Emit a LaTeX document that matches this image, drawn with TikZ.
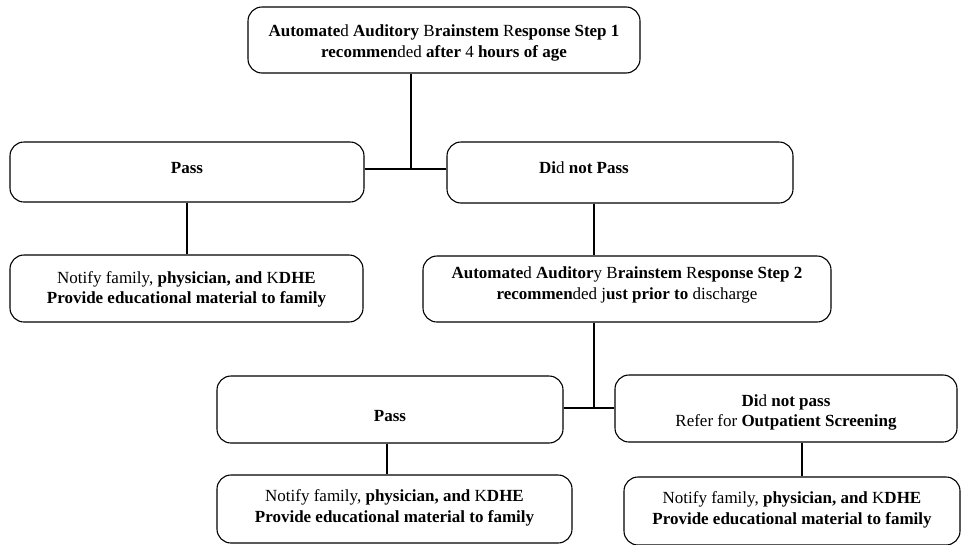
\documentclass[tikz,border=0pt]{standalone}
\usepackage{fontspec}
\setmainfont{Liberation Serif}
% shift a label without changing the size TikZ centres on
\newcommand{\nudge}[2]{\raisebox{#1}[\height][\depth]{#2}}
\newcommand{\twolines}[3]{\nudge{#1}{\begin{tabular}{@{}c@{}}#2\\#3\end{tabular}}}
\begin{document}
\begin{tikzpicture}[x=1pt,y=-1pt,
  stepbox/.style={draw, line width=1.1pt, rounded corners=14pt, inner sep=0pt,
    align=center, font=\fontsize{17}{20.5}\selectfont},
  link/.style={line width=2pt}]
\useasboundingbox (0,0) rectangle (961,544);

% first screening
\node[stepbox, minimum width=392pt, minimum height=66pt] (abr1) at (444,40)
  {\twolines{-3pt}
    {\textbf{Automate}d \textbf{Auditory} B\textbf{rainstem} R\textbf{esponse Step 1}}
    {\textbf{recommen}ded \textbf{after} 4 \textbf{hours of age}}};

\node[stepbox, minimum width=354pt, minimum height=60pt] (pass1) at (187,172)
  {\nudge{4pt}{\textbf{Pass}}};
\node[stepbox, minimum width=346pt, minimum height=61pt] (fail1) at (620,172.5)
  {\nudge{5pt}{\textbf{Di}d \textbf{not Pass}}\hspace*{72pt}};

\node[stepbox, minimum width=353pt, minimum height=67pt] (notify1) at (186.5,288.5)
  {\twolines{-1pt}
    {Notify family, \textbf{physician, and} K\textbf{DHE}}
    {\textbf{Provide educational material to family}}};

% second screening
\node[stepbox, minimum width=408pt, minimum height=66pt] (abr2) at (627,289)
  {\twolines{4pt}
    {\textbf{Automate}d \textbf{Auditor}y B\textbf{rainstem} R\textbf{esponse Step 2}}
    {\textbf{recommen}ded j\textbf{ust prior to} discharge}};

\node[stepbox, minimum width=346pt, minimum height=67pt] (pass2) at (390,409.5)
  {\nudge{-7pt}{\textbf{Pass}}};
\node[stepbox, minimum width=342pt, minimum height=67pt] (fail2) at (786,408.5)
  {\twolines{-4pt}
    {\textbf{Di}d \textbf{not pass}}
    {Refer for \textbf{Outpatient Screening}}};

\node[stepbox, minimum width=355pt, minimum height=68pt] (notify2) at (394.5,509)
  {\twolines{1pt}
    {Notify family, \textbf{physician, and} K\textbf{DHE}}
    {\textbf{Provide educational material to family}}};
\node[stepbox, minimum width=336pt, minimum height=68pt] (notify3) at (792,511)
  {\twolines{1pt}
    {Notify family, \textbf{physician, and} K\textbf{DHE}}
    {\textbf{Provide educational material to family}}};

% junctions and drop points of the connectors
\coordinate (j1) at (411,169);
\coordinate (j2) at (594,408);
\coordinate (d1) at (594,0);
\coordinate (d2) at (387,0);
\coordinate (d3) at (802,0);

\draw[link] (abr1.south -| j1) -- (j1);
\draw[link] (pass1.east |- j1) -- (fail1.west |- j1);
\draw[link] (pass1.south) -- (notify1.north -| pass1.south);
\draw[link] (fail1.south -| d1) -- (abr2.north -| d1);
\draw[link] (abr2.south -| j2) -- (j2);
\draw[link] (pass2.east |- j2) -- (fail2.west |- j2);
\draw[link] (pass2.south -| d2) -- (notify2.north -| d2);
\draw[link] (fail2.south -| d3) -- (notify3.north -| d3);
\end{tikzpicture}
\end{document}
